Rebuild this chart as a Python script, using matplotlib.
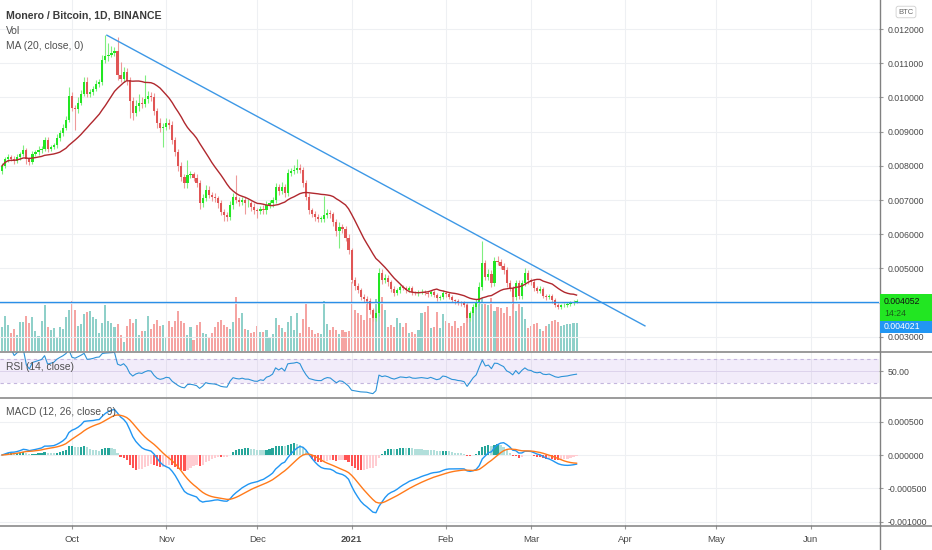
import numpy as np
import pandas as pd
import matplotlib
matplotlib.use("Agg")
import matplotlib.pyplot as plt
import matplotlib.dates as mdates
from matplotlib.lines import Line2D
from matplotlib.patches import Rectangle

plt.rcParams['font.family'] = ['Liberation Sans', 'DejaVu Sans']

FIRST_DAY = "2020-09-08"
UNIT = 1e-4  # prices below in units of 0.0001 BTC

first_open = 78.5
closes = [
    80, 82, 82.5, 82, 81.5, 82.5, 83.5, 84.5, 82, 81,
    83.5, 84, 84.5, 85, 87.5, 85, 85.5, 86, 88, 89.5,
    91, 93.5, 100.5, 97, 96.5, 98.5, 101, 104.5, 101, 101.5,
    102.5, 104, 104.5, 111, 112, 112.5, 113, 113.5, 106.5, 105.5,
    107.5, 105, 99, 95.5, 97.5, 98.5, 98, 99.5, 100.5, 100.2,
    96, 92.5, 91, 91.5, 92.5, 92, 87.5, 84, 80, 76.7,
    75, 77.3, 77.5, 76.5, 75, 69, 70.5, 73, 71.5, 71,
    70.5, 69, 66.5, 65.5, 65, 68.5, 71, 70, 69.5, 70,
    69, 69, 68, 67, 66.8, 67.5, 67, 68.5, 69, 70,
    73.8, 72.5, 73.8, 72, 78, 78.5, 78.8, 79.5, 78.8, 75,
    71, 67, 66, 65, 64.5, 64.5, 65.6, 66.2, 65.8, 63.5,
    61, 62, 61.5, 59, 55.5, 46.6, 45, 43.7, 41.6, 41.2,
    40.5, 37.8, 35.5, 37, 48.7, 46.5, 47.2, 46, 44, 42.8,
    43.6, 44.5, 44.2, 43.7, 44.2, 43, 42.8, 43, 43.2, 42.8,
    42.5, 43, 42.2, 41.3, 41.6, 42.8, 42.5, 41.6, 40.7, 40.5,
    40, 39.8, 39.3, 35.5, 37, 38.7, 40, 44.5, 51.5, 47.5,
    48.5, 45.7, 52.2, 52, 50.7, 49.5, 45.7, 44.2, 41.6, 45.7,
    42, 45.7, 48.8, 46.5, 46, 44.2, 43.5, 44, 42, 41.6,
    42, 40.7, 39.3, 38.7, 39.2, 39.4, 39.6, 40, 40.3, 40.52,
]
wick_hi = [
    0.8, 0.6, 1.0, 0.7, 0.8, 0.9, 0.6, 1.5, 0.8, 0.7,
    0.9, 0.6, 1.2, 0.8, 1.0, 0.9, 0.7, 0.8, 1.4, 1.0,
    1.2, 1.0, 2.5, 1.0, 0.8, 1.5, 1.2, 1.5, 1.6, 1.0,
    0.8, 1.2, 1.0, 1.5, 6.2, 3.4, 2.0, 1.2, 4.3, 4.0,
    1.5, 1.2, 1.0, 1.0, 1.8, 2.5, 1.5, 7.0, 1.5, 1.0,
    1.0, 0.8, 1.5, 1.0, 1.6, 1.2, 1.0, 0.8, 1.0, 1.2,
    1.0, 4.4, 1.0, 0.8, 1.0, 0.8, 1.2, 1.5, 1.0, 0.8,
    1.0, 0.8, 1.0, 0.8, 1.0, 1.2, 1.0, 6.3, 1.0, 0.8,
    1.0, 1.2, 0.8, 1.0, 0.8, 0.9, 1.0, 1.2, 1.0, 1.0,
    1.2, 1.0, 1.5, 1.0, 1.2, 1.0, 1.5, 2.5, 1.0, 1.0,
    0.8, 1.0, 0.8, 0.8, 1.0, 0.9, 5.6, 1.2, 1.0, 0.8,
    1.0, 1.5, 1.0, 0.8, 1.0, 0.6, 0.8, 0.8, 0.6, 0.8,
    0.6, 0.8, 0.6, 1.0, 1.4, 1.0, 1.2, 0.8, 0.6, 0.8,
    0.8, 0.7, 0.6, 0.8, 0.6, 0.7, 0.5, 0.6, 0.8, 0.5,
    0.6, 0.8, 0.6, 0.5, 0.6, 0.8, 0.6, 0.5, 0.6, 0.5,
    0.6, 0.5, 0.6, 0.5, 0.6, 0.8, 1.0, 1.5, 6.5, 1.0,
    1.2, 1.0, 1.0, 1.5, 0.8, 1.0, 0.8, 0.8, 0.6, 1.0,
    0.8, 1.0, 1.4, 0.8, 0.6, 0.8, 0.6, 0.8, 0.6, 0.5,
    0.6, 0.5, 0.6, 0.5, 0.5, 0.4, 0.5, 0.4, 0.5, 0.4,
]
wick_lo = [
    0.8, 0.6, 0.8, 0.7, 1.0, 0.6, 0.8, 0.6, 1.5, 0.8,
    0.6, 0.7, 0.8, 0.6, 0.8, 1.0, 0.8, 0.6, 0.8, 0.7,
    0.8, 0.6, 0.8, 1.0, 6.0, 1.0, 0.8, 0.6, 1.0, 0.8,
    0.8, 0.6, 0.8, 0.8, 1.0, 1.2, 0.8, 1.0, 1.5, 1.0,
    1.0, 1.5, 5.0, 2.2, 1.0, 1.5, 1.0, 0.8, 1.0, 1.2,
    1.0, 1.5, 1.2, 5.4, 1.0, 1.2, 1.0, 1.2, 1.5, 1.0,
    1.5, 1.5, 1.0, 1.0, 1.2, 1.5, 1.0, 0.8, 1.0, 1.2,
    1.0, 1.2, 1.0, 1.5, 1.2, 0.8, 1.0, 1.0, 1.2, 1.0,
    3.0, 1.0, 1.2, 1.0, 2.0, 1.0, 1.2, 1.0, 0.8, 1.0,
    0.8, 1.0, 0.8, 1.0, 0.8, 1.0, 0.8, 1.0, 1.0, 1.2,
    1.0, 1.2, 1.0, 1.0, 0.8, 1.0, 0.8, 1.0, 1.0, 1.2,
    1.5, 5.0, 1.0, 1.0, 1.2, 1.0, 1.2, 1.0, 0.8, 1.0,
    0.8, 1.0, 0.8, 0.8, 0.8, 1.0, 0.8, 1.0, 0.8, 0.8,
    0.6, 0.8, 0.6, 0.8, 0.6, 0.8, 0.6, 0.8, 0.6, 0.6,
    0.8, 0.6, 0.6, 0.8, 0.6, 0.6, 0.8, 0.6, 0.6, 0.8,
    0.6, 0.8, 0.6, 1.2, 0.8, 0.6, 0.6, 0.8, 0.8, 1.0,
    1.0, 1.2, 0.8, 1.0, 0.8, 1.0, 1.0, 0.8, 3.2, 0.8,
    1.0, 0.8, 0.8, 1.0, 0.8, 0.8, 0.6, 0.8, 0.6, 0.8,
    0.6, 0.8, 0.6, 0.5, 0.6, 0.5, 0.6, 0.5, 0.6, 0.5,
]
volume = [
    24, 35, 26, 18, 22, 16, 29, 29, 35, 28,
    34, 20, 15, 30, 45, 24, 21, 23, 13, 24,
    22, 34, 41, 49, 41, 25, 27, 37, 39, 40,
    34, 32, 18, 28, 45, 30, 28, 24, 27, 16,
    9, 25, 32, 28, 32, 16, 20, 20, 35, 22,
    27, 31, 25, 26, 14, 30, 24, 30, 40, 30,
    28, 16, 24, 11, 26, 29, 18, 17, 13, 18,
    24, 29, 31, 26, 24, 22, 29, 53, 33, 38,
    22, 21, 18, 19, 25, 19, 19, 21, 13, 17,
    33, 26, 23, 19, 29, 35, 21, 38, 18, 32,
    47, 24, 21, 17, 18, 17, 49, 27, 21, 24,
    21, 17, 21, 19, 20, 68, 41, 38, 36, 31,
    49, 33, 39, 51, 39, 53, 41, 24, 26, 24,
    33, 28, 24, 28, 18, 19, 17, 21, 38, 39,
    44, 23, 24, 39, 23, 37, 30, 28, 25, 30,
    23, 25, 28, 47, 37, 42, 45, 48, 52, 48,
    45, 52, 40, 43, 42, 38, 43, 35, 53, 40,
    48, 43, 32, 23, 25, 27, 28, 22, 20, 25,
    27, 30, 31, 29, 25, 26, 27, 27, 28, 28,
]

month_ticks = ["2020-10-01", "2020-11-01", "2020-12-01", "2021-01-01", "2021-02-01",
               "2021-03-01", "2021-04-01", "2021-05-01", "2021-06-01"]
month_labels = ["Oct", "Nov", "Dec", "2021", "Feb", "Mar", "Apr", "May", "Jun"]
price_ticks = [0.003, 0.004, 0.005, 0.006, 0.007, 0.008, 0.009, 0.010, 0.011, 0.012]
macd_ticks = [-0.001, -0.0005, 0.0, 0.0005]
trend_dates = ["2020-10-12 12:00", "2021-04-07 12:00"]
trend_prices = [0.01182, 0.00332]
hline_price = 0.004021
last_price = 0.004052
countdown = "14:24"
x_range = ["2020-09-07 08:00", "2021-06-23 12:00"]

# ---- series
close = pd.Series(closes) * UNIT
opens = pd.Series([first_open] + closes[:-1]) * UNIT
high = np.maximum(opens, close) + pd.Series(wick_hi) * UNIT
low = np.minimum(opens, close) - pd.Series(wick_lo) * UNIT
up_day = (close >= opens).values

dates = pd.date_range(FIRST_DAY, periods=len(closes), freq="D")
x = mdates.date2num(dates)

ma = close.rolling(20, min_periods=1).mean()

delta = close - opens
gain = delta.clip(lower=0).ewm(alpha=1 / 14).mean()
loss = (-delta.clip(upper=0)).ewm(alpha=1 / 14).mean()
rsi = 100 - 100 / (1 + gain / loss)

ema12 = close.ewm(span=12, adjust=False).mean()
ema26 = close.ewm(span=26, adjust=False).mean()
macd = ema12 - ema26
signal = macd.ewm(span=9, adjust=False).mean()
hist = macd - signal
hist_prev = hist.shift(1).fillna(0)
hist_colors = []
for h, p in zip(hist, hist_prev):
    if h >= 0:
        hist_colors.append("#26a69a" if h > p else "#b2dfdb")
    else:
        hist_colors.append("#ff5252" if h < p else "#ffcdd2")

# ---- figure
W, H = 932, 550
fig = plt.figure(figsize=(W / 100, H / 100), dpi=100)
fig.patch.set_facecolor("white")


def rect(top, bottom, right=879):
    return [0, 1 - bottom / H, right / W, (bottom - top) / H]


ax = fig.add_axes(rect(0, 351))
ax_vol = ax.twinx()
ax_rsi = fig.add_axes(rect(352, 397), sharex=ax)
ax_macd = fig.add_axes(rect(398, 525), sharex=ax)

xmin, xmax = mdates.date2num(pd.to_datetime(x_range))
tick_x = mdates.date2num(pd.to_datetime(month_ticks))
grid_c = "#eef0f3"
lab_c = "#4a4a4a"
fs = 6.3

for a in (ax, ax_rsi, ax_macd):
    a.set_xlim(xmin, xmax)
    for s in a.spines.values():
        s.set_visible(False)
    a.set_xticks(tick_x)
    a.tick_params(axis="x", length=0, labelbottom=False)
    a.yaxis.tick_right()
    a.tick_params(axis="y", left=False, labelleft=False, right=True, labelright=True,
                  length=3, color="#999999", labelsize=fs, labelcolor=lab_c, pad=3)
    for tx in tick_x:
        a.axvline(tx, color=grid_c, lw=0.8, zorder=0)

# main panel
ax.set_ylim(0.002585, 0.01285)
ax.set_yticks(price_ticks)
# the 0.004000 label sits under the last-price tag on the axis
ax.set_yticklabels(["" if p == 0.004 else "%.6f" % p for p in price_ticks])
for p in price_ticks:
    ax.axhline(p, color=grid_c, lw=0.8, zorder=0)

ax_vol.set_ylim(0, max(volume) * 5.1)
ax_vol.set_yticks([])
ax_vol.tick_params(axis="y", right=False, labelright=False)
for s in ax_vol.spines.values():
    s.set_visible(False)
vol_colors = ["#8fd0c9" if u else "#f5a4a2" for u in up_day]
ax_vol.bar(x, volume, width=0.68, color=vol_colors, zorder=1)
ax.set_zorder(ax_vol.get_zorder() + 1)
ax.patch.set_visible(False)

candle_colors = ["#22e622" if u else "#e05555" for u in up_day]
wick_colors = ["#7fee7f" if u else "#ee9a9a" for u in up_day]
ax.vlines(x, low, high, colors=wick_colors, lw=0.8, zorder=3)
body = np.maximum((close - opens).abs(), 0.000012)
ax.bar(x, body, bottom=np.minimum(opens, close), width=0.72, color=candle_colors, zorder=4)
ax.plot(x, ma, color="#b0282e", lw=1.0, zorder=5)
ax.plot(mdates.date2num(pd.to_datetime(trend_dates)), trend_prices, color="#3d98e6", lw=1.0, zorder=6)
ax.axhline(hline_price, color="#2a8fe8", lw=1.0, zorder=6)

# RSI panel
ax_rsi.set_ylim(5.6, 82.5)
ax_rsi.set_yticks([50])
ax_rsi.set_yticklabels(["50.00"])
ax_rsi.axhspan(30, 70, color="#9c6ad6", alpha=0.12, lw=0, zorder=0)
ax_rsi.axhline(50, color="#ddd3ec", lw=0.7, zorder=0)
for lvl in (30, 70):
    ax_rsi.axhline(lvl, color="#c4b6de", lw=0.8, ls=(0, (3, 3)), zorder=1)
ax_rsi.plot(x[1:], rsi[1:], color="#2d93d8", lw=0.8, zorder=3)

# MACD panel
ax_macd.set_ylim(-0.001045, 0.000851)
ax_macd.set_yticks(macd_ticks)
ax_macd.set_yticklabels(["%.6f" % v if v != 0 else "0.000000" for v in macd_ticks])
for v in macd_ticks:
    ax_macd.axhline(v, color=grid_c, lw=0.8, zorder=0)
ax_macd.bar(x, hist, width=0.72, color=hist_colors, zorder=2)
ax_macd.plot(x, macd, color="#2196f3", lw=1.0, zorder=3)
ax_macd.plot(x, signal, color="#ff7a1a", lw=1.0, zorder=3)

ax_macd.tick_params(axis="x", length=3, color="#999999", labelbottom=True,
                    labelsize=6.8, labelcolor=lab_c, pad=4)
ax_macd.set_xticklabels(month_labels)
ax_macd.get_xticklabels()[3].set_fontweight("bold")

# panel separators and price-axis border
sep_c = "#808080"
for yy in (351.5, 397.5, 525.5):
    fig.add_artist(Line2D([0, 1], [1 - yy / H] * 2, color=sep_c, lw=1.1, zorder=10))
fig.add_artist(Line2D([879.5 / W] * 2, [0, 1], color=sep_c, lw=1.0, zorder=10))

# legends / titles
fig.text(6 / W, 1 - 15 / H, "Monero / Bitcoin, 1D, BINANCE", fontsize=7.6,
         fontweight="bold", color="#3c3c3c", va="center")
fig.text(6 / W, 1 - 31 / H, "Vol", fontsize=7.4, color="#505050", va="center")
fig.text(6 / W, 1 - 46 / H, "MA (20, close, 0)", fontsize=7.4, color="#505050", va="center")
fig.text(6 / W, 1 - 367 / H, "RSI (14, close)", fontsize=7.4, color="#505050", va="center")
fig.text(6 / W, 1 - 412 / H, "MACD (12, 26, close, 9)", fontsize=7.4, color="#505050", va="center")

fig.text(906 / W, 1 - 12 / H, "BTC", fontsize=5.5, color="#666666", ha="center", va="center",
         bbox=dict(boxstyle="round,pad=0.3", fc="white", ec="#cfcfcf", lw=0.6))

# price tags on the axis
fig.add_artist(Rectangle((880 / W, 1 - 320.5 / H), 52 / W, 26.5 / H, color="#22e622", lw=0, zorder=11))
fig.text(884 / W, 1 - 302 / H, "%.6f" % last_price, fontsize=fs, color="#111111", va="center", zorder=12)
fig.text(884 / W, 1 - 313 / H, countdown, fontsize=fs, color="#1a5c1a", va="center", zorder=12)
fig.add_artist(Rectangle((880 / W, 1 - 332.5 / H), 52 / W, 12 / H, color="#2196f3", lw=0, zorder=11))
fig.text(884 / W, 1 - 326.5 / H, "%.6f" % hline_price, fontsize=fs, color="white", va="center", zorder=12)

fig.savefig("out.png", dpi=100, facecolor="white")
